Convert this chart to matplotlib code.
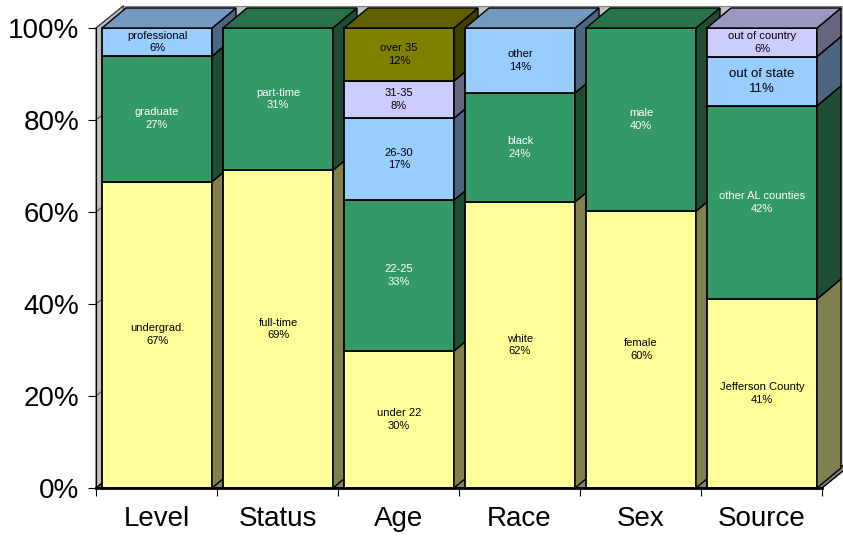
import matplotlib
matplotlib.use("Agg")
import matplotlib.pyplot as plt
from matplotlib.patches import Polygon

plt.rcParams['font.family'] = ['Liberation Sans', 'DejaVu Sans']

# ---------------- data ----------------
categories = ["Level", "Status", "Age", "Race", "Sex", "Source"]

level_names = ["undergrad.", "graduate", "professional"]
level_heights = [66.6, 27.3, 6.1]
level_labels = [67, 27, 6]

status_names = ["full-time", "part-time"]
status_heights = [69.1, 30.9]
status_labels = [69, 31]

age_names = ["under 22", "22-25", "26-30", "31-35", "over 35"]
age_heights = [29.8, 32.8, 17.8, 8.1, 11.5]
age_labels = [30, 33, 17, 8, 12]

race_names = ["white", "black", "other"]
race_heights = [62.2, 23.7, 14.1]
race_labels = [62, 24, 14]

sex_names = ["female", "male"]
sex_heights = [60.2, 39.8]
sex_labels = [60, 40]

source_names = ["Jefferson County", "other AL counties", "out of state", "out of country"]
source_heights = [41.1, 42.0, 10.7, 6.2]
source_labels = [41, 42, 11, 6]

yticks = [0, 20, 40, 60, 80, 100]
ytick_labels = ["0%", "20%", "40%", "60%", "80%", "100%"]

# series colours: (front, top, side)
series_colors = [
    ("#FFFF99", "#BFBF73", "#80804D"),  # yellow
    ("#339966", "#267349", "#1F4D33"),  # green
    ("#99CCFF", "#7399BF", "#4D6680"),  # light blue
    ("#CCCCFF", "#9999BF", "#666680"),  # lavender
    ("#808000", "#606000", "#404000"),  # olive
]

groups = [
    (level_names, level_heights, level_labels),
    (status_names, status_heights, status_labels),
    (age_names, age_heights, age_labels),
    (race_names, race_heights, race_labels),
    (sex_names, sex_heights, sex_labels),
    (source_names, source_heights, source_labels),
]

# ---------------- figure ----------------
W, H = 843, 540
fig = plt.figure(figsize=(W / 100, H / 100), dpi=100)
fig.patch.set_facecolor("white")
ax = fig.add_axes([96 / W, 52 / H, 726 / W, 460 / H])
ax.set_xlim(0, len(categories))
ax.set_ylim(0, 100)
ax.set_facecolor("none")

# depth of bars / walls (in data units)
dx, dy = 0.198, 4.35
wdx, wdy = 0.225, 4.8
ncat = len(categories)

def poly(pts, fc, ec="black", lw=1.0, z=1):
    p = Polygon(pts, closed=True, facecolor=fc, edgecolor=ec, linewidth=lw,
                clip_on=False, zorder=z, joinstyle="miter")
    ax.add_patch(p)

# back wall
poly([(wdx, wdy), (ncat + wdx, wdy), (ncat + wdx, 100 + wdy), (wdx, 100 + wdy)],
     "#C0C0C0", ec="#808080", lw=0.8, z=0.5)
# side wall
poly([(0, 0), (wdx, wdy), (wdx, 100 + wdy), (0, 100)], "#C0C0C0", ec="#404040", lw=0.8, z=0.6)
# gridlines on side wall
for v in yticks:
    ax.plot([0, wdx], [v, v + wdy], color="#404040", lw=0.7, clip_on=False, zorder=0.7)
# floor
poly([(0, 0), (ncat, 0), (ncat + wdx, wdy), (wdx, wdy)], "#808080", ec="black", lw=1.0, z=0.8)

# bars
x_off, bar_w = 0.05, 0.909
for i, (names, heights, labels) in enumerate(groups):
    x0 = i + x_off
    x1 = x0 + bar_w
    base = 0.0
    for k, (nm, h, lab) in enumerate(zip(names, heights, labels)):
        front, top, side = series_colors[k]
        y0, y1 = base, base + h
        z = 2 + i * 0.1 + k * 0.01
        poly([(x0, y0), (x1, y0), (x1, y1), (x0, y1)], front, lw=1.3, z=z)
        poly([(x1, y0), (x1 + dx, y0 + dy), (x1 + dx, y1 + dy), (x1, y1)], side, lw=1.0, z=z)
        poly([(x0, y1), (x1, y1), (x1 + dx, y1 + dy), (x0 + dx, y1 + dy)], top, lw=1.0, z=z)
        tcolor = "white" if k == 1 else "black"
        fs = 9.5 if nm == "out of state" else 8
        ax.text((x0 + x1) / 2, (y0 + y1) / 2, f"{nm}\n{lab}%", ha="center", va="center",
                fontsize=fs, color=tcolor, linespacing=1.35, zorder=z + 0.005)
        base = y1

# axes styling
for s in ["top", "right"]:
    ax.spines[s].set_visible(False)
ax.spines["left"].set_linewidth(0.8)
ax.spines["left"].set_zorder(0.9)
ax.spines["bottom"].set_linewidth(2.0)
ax.spines["bottom"].set_zorder(5)

ax.set_yticks(yticks)
ax.set_yticklabels(ytick_labels, fontsize=20)
ax.tick_params(axis="y", direction="out", length=6, width=0.8, pad=6)

ax.set_xticks(range(ncat + 1))
ax.set_xticklabels([])
ax.set_xticks([i + 0.5 for i in range(ncat)], minor=True)
ax.set_xticklabels(categories, minor=True, fontsize=20)
ax.tick_params(axis="x", which="major", direction="out", length=6, width=0.8)
ax.tick_params(axis="x", which="minor", length=0, pad=13)

fig.savefig("out.png", dpi=100, facecolor="white")
